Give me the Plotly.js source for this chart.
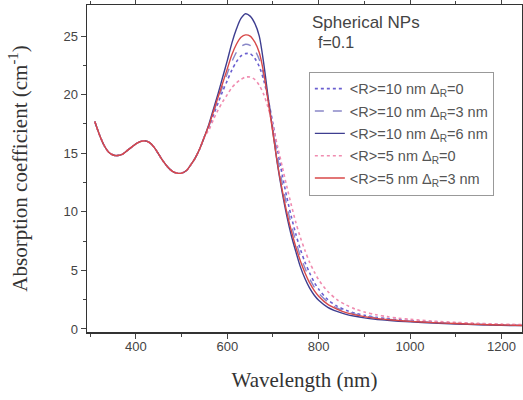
<!DOCTYPE html>
<html><head><meta charset="utf-8">
<script src="https://cdn.plot.ly/plotly-3.0.1.min.js"></script>
<style>body{margin:0;padding:0;background:#fff}#chart{width:523px;height:400px}</style>
</head><body><div id="chart"></div>
<script>
const wavelength = [310,320,330,340,350,360,370,380,390,400,410,420,430,440,450,460,470,480,490,500,510,520,530,540,550,
  560,570,580,590,600,610,620,630,640,650,660,670,680,690,700,710,720,730,740,750,760,770,780,790,800,
  820,840,860,880,900,925,950,975,1000,1050,1100,1150,1200,1245];

const common = [17.7,16.6,15.7,15.1,14.85,14.8,14.9,15.2,15.5,15.8,16.0,16.05,15.9,15.5,14.9,14.3,13.8,13.45,13.3,13.3,13.5,14.0,14.6,15.4,16.4];

const r10d0 = common.concat([17.2,18.3,19.3,20.3,21.2,22.1,22.8,23.3,23.5,23.5,23.1,22.4,21.2,19.5,17.5,15.3,13.2,11.3,9.6,8.1,6.8,5.7,4.8,4.0,3.4,
  2.5,1.95,1.6,1.35,1.17,1.0,0.88,0.79,0.71,0.58,0.49,0.42,0.36,0.32]);
const r10d3 = common.concat([17.3,18.5,19.6,20.7,21.8,22.8,23.6,24.1,24.3,24.2,23.8,23.0,21.6,19.5,17.1,14.7,12.5,10.6,8.9,7.5,6.2,5.2,4.3,3.6,3.05,
  2.3,1.8,1.5,1.27,1.1,0.95,0.84,0.75,0.68,0.56,0.47,0.4,0.35,0.31]);
const r10d6 = common.concat([17.5,18.8,20.1,21.5,22.9,24.4,25.6,26.5,26.9,26.7,26.1,25.0,22.6,19.6,16.8,14.0,11.7,9.7,8.0,6.6,5.3,4.3,3.5,2.9,2.45,
  1.85,1.5,1.25,1.08,0.95,0.83,0.74,0.66,0.6,0.5,0.42,0.36,0.31,0.28]);
const r5d0 = common.concat([17.0,17.9,18.7,19.4,20.0,20.6,21.0,21.3,21.5,21.5,21.3,20.8,20.0,18.8,17.3,15.6,13.9,12.2,10.6,9.1,7.8,6.7,5.7,4.9,4.2,
  3.2,2.5,2.05,1.7,1.45,1.22,1.05,0.92,0.82,0.67,0.56,0.48,0.41,0.37]);
const r5d3 = common.concat([17.4,18.6,19.8,21.0,22.2,23.4,24.3,24.9,25.1,25.0,24.5,23.6,21.8,19.3,16.7,14.1,11.9,10.0,8.4,7.0,5.8,4.8,3.95,3.3,2.8,
  2.1,1.7,1.4,1.2,1.05,0.9,0.8,0.72,0.65,0.54,0.46,0.39,0.34,0.3]);

const seriesNames = [
  "&lt;R&gt;=10 nm Δ<sub>R</sub>=0",
  "&lt;R&gt;=10 nm Δ<sub>R</sub>=3 nm",
  "&lt;R&gt;=10 nm Δ<sub>R</sub>=6 nm",
  "&lt;R&gt;=5 nm Δ<sub>R</sub>=0",
  "&lt;R&gt;=5 nm Δ<sub>R</sub>=3 nm"
];
const seriesData = [r10d0, r10d3, r10d6, r5d0, r5d3];
const styles = [
  {color:"#6a5fd0", dash:"dot", width:1.6},
  {color:"#8a88c8", dash:"dash", width:1.4},
  {color:"#3e3e90", dash:"solid", width:1.4},
  {color:"#f08cb0", dash:"dot", width:1.6},
  {color:"#d84848", dash:"solid", width:1.4}
];

const traces = seriesData.map((y,i)=>({
  x: wavelength, y: y, name: seriesNames[i], type:"scatter", mode:"lines", legendgroup:"g"+i,
  line: {color: styles[i].color, dash: styles[i].dash, width: styles[i].width, shape:"spline", smoothing:0.8}
}));

const axisFont = {family:"Liberation Sans, Arial, sans-serif", size:13, color:"#444"};
const layout = {
  width:523, height:400,
  margin:{l:87, r:1, t:5, b:68},
  paper_bgcolor:"#fff", plot_bgcolor:"#fff",
  showlegend:true,
  legend:{x:0.51, y:0.796, xanchor:"left", yanchor:"top", bgcolor:"rgba(255,255,255,0)", tracegroupgap:0.5,
    bordercolor:"#999", borderwidth:1, font:{family:"Liberation Sans, Arial, sans-serif", size:14.5, color:"#555"}},
  xaxis:{range:[293,1245], tickvals:[400,600,800,1000,1200], ticks:"outside", ticklen:5, tickcolor:"#444",
    showline:true, linecolor:"#333", linewidth:1.5, mirror:"ticks", showgrid:false, zeroline:false,
    tickfont:axisFont, ticklabelstandoff:-3,
    minor:{tickvals:[300,500,700,900,1100], ticks:"outside", ticklen:3, tickcolor:"#444", showgrid:false},
    title:{text:"Wavelength (nm)", font:{family:"Liberation Serif, Times New Roman, serif", size:21, color:"#333"}, standoff:19}},
  yaxis:{range:[-0.26,27.65], tickvals:[0,5,10,15,20,25], ticks:"outside", ticklen:5, tickcolor:"#444",
    showline:true, linecolor:"#333", linewidth:1.5, mirror:"ticks", showgrid:false, zeroline:false,
    tickfont:axisFont,
    minor:{tickvals:[2.5,7.5,12.5,17.5,22.5], ticks:"outside", ticklen:3, tickcolor:"#444", showgrid:false},
    title:{text:"Absorption coefficient (cm<sup>-1</sup>)", font:{family:"Liberation Serif, Times New Roman, serif", size:21, color:"#333"}, standoff:30}},
  annotations:[
    {text:"Spherical NPs", xref:"paper", yref:"paper", x:0.513, y:0.947, xanchor:"left", yanchor:"middle", showarrow:false,
      font:{family:"Liberation Sans, Arial, sans-serif", size:17, color:"#444"}},
    {text:"f=0.1", xref:"paper", yref:"paper", x:0.527, y:0.885, xanchor:"left", yanchor:"middle", showarrow:false,
      font:{family:"Liberation Sans, Arial, sans-serif", size:16, color:"#444"}}
  ]
};
Plotly.newPlot("chart", traces, layout, {displayModeBar:false, staticPlot:true});
</script></body></html>
